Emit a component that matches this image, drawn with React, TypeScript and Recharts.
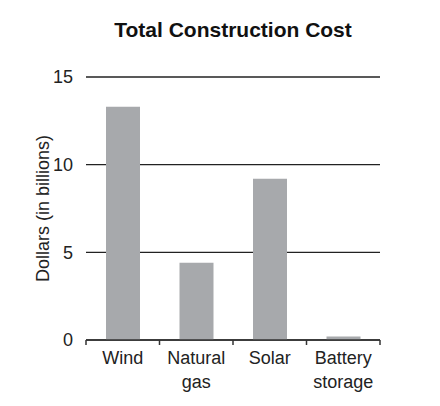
import { Bar, BarChart, CartesianGrid, Label, XAxis, YAxis } from "recharts";

const categories = ["Wind", "Natural\ngas", "Solar", "Battery\nstorage"];
const costBillions = [13.3, 4.4, 9.2, 0.2];
const yTicks = [0, 5, 10, 15];

const data = categories.map((name, i) => ({ name, cost: costBillions[i] }));

const FONT = "'Liberation Sans', Arial, Helvetica, sans-serif";
const PLOT_LEFT = 86;
const PLOT_RIGHT = 380;
const BAND = (PLOT_RIGHT - PLOT_LEFT) / categories.length;

const CategoryTick = (props: any) => {
  const { x, y, payload, index } = props;
  const lines = String(payload.value).split("\n");
  const left = x - BAND / 2;
  return (
    <g>
      <line x1={left} x2={left} y1={y - 5} y2={y} stroke="#333" strokeWidth={1.5} />
      {index === categories.length - 1 && (
        <line x1={left + BAND} x2={left + BAND} y1={y - 5} y2={y} stroke="#333" strokeWidth={1.5} />
      )}
      <text textAnchor="middle" fontSize={18} fill="#222" fontFamily={FONT}>
        {lines.map((line, i) => (
          <tspan key={line} x={x} y={y + 19 + i * 24}>
            {line}
          </tspan>
        ))}
      </text>
    </g>
  );
};

export default function App() {
  return (
    <div style={{ position: "absolute", left: 0, top: 0, width: 440, height: 406, background: "#fff", fontFamily: FONT }}>
      <div
        style={{
          position: "absolute",
          top: 19,
          left: PLOT_LEFT,
          width: PLOT_RIGHT - PLOT_LEFT,
          textAlign: "center",
          fontSize: 21,
          lineHeight: "21px",
          fontWeight: "bold",
          color: "#111",
        }}
      >
        Total Construction Cost
      </div>
      <BarChart
        width={440}
        height={406}
        data={data}
        margin={{ top: 77, right: 440 - PLOT_RIGHT, bottom: 16, left: 0 }}
      >
        <CartesianGrid vertical={false} stroke="#222" strokeWidth={1.3} />
        <XAxis
          dataKey="name"
          height={50}
          interval={0}
          tickLine={false}
          tickSize={5}
          tickMargin={0}
          axisLine={{ stroke: "#333", strokeWidth: 1.5 }}
          tick={<CategoryTick />}
        />
        <YAxis
          width={PLOT_LEFT}
          domain={[0, 15]}
          ticks={yTicks}
          axisLine={false}
          tickLine={false}
          tickSize={0}
          tickMargin={13}
          tick={{ fontSize: 18, fill: "#222", fontFamily: FONT }}
        >
          <Label
            value="Dollars (in billions)"
            angle={-90}
            position="center"
            fontSize={18}
            fill="#222"
            fontFamily={FONT}
          />
        </YAxis>
        <Bar dataKey="cost" fill="#a7a9ac" barSize={34} isAnimationActive={false} />
      </BarChart>
    </div>
  );
}
